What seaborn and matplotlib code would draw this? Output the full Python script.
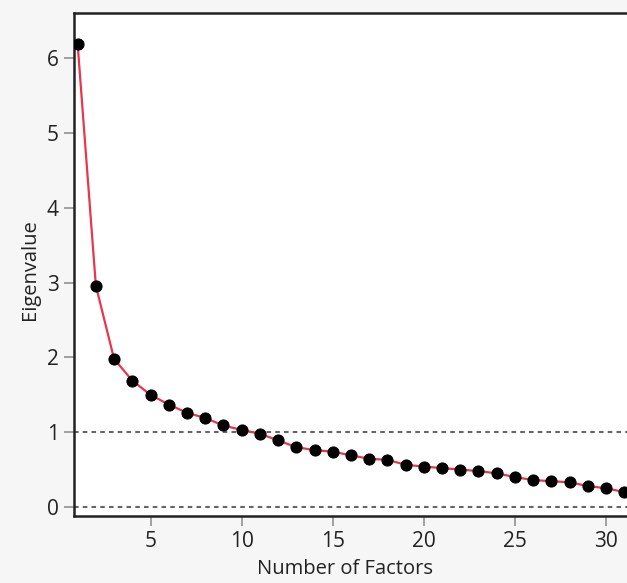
import matplotlib
matplotlib.use("Agg")
import matplotlib.pyplot as plt
import seaborn as sns
import pandas as pd

# scree plot values
factors = list(range(1, 32))
eigenvalues = [
    6.19, 2.96, 1.98, 1.69, 1.50, 1.37, 1.26, 1.19, 1.09, 1.03,
    0.98, 0.89, 0.80, 0.76, 0.74, 0.69, 0.645, 0.63, 0.565, 0.54,
    0.52, 0.50, 0.48, 0.45, 0.40, 0.36, 0.345, 0.33, 0.28, 0.25,
    0.20,
]
ref_lines = [0, 1]
x_ticks = [5, 10, 15, 20, 25, 30]
y_ticks = [0, 1, 2, 3, 4, 5, 6]

df = pd.DataFrame({"factor": factors, "eigenvalue": eigenvalues})

sns.set_style("white")
plt.rcParams["font.family"] = ["Open Sans", "DejaVu Sans"]

fig = plt.figure(figsize=(6.27, 5.83), dpi=100, facecolor="#f6f6f6")
ax = fig.add_axes([0.118, 0.115, 0.882, 0.862])
ax.set_facecolor("white")

for v in ref_lines:
    ax.axhline(v, color="#666666", linestyle=(0, (2.2, 2.0)), linewidth=1.5, zorder=1)

sns.lineplot(
    data=df, x="factor", y="eigenvalue", ax=ax,
    color="#e8364c", linewidth=1.6, marker="o", markersize=8,
    markerfacecolor="black", markeredgecolor="black", zorder=3,
)

ax.set_xlim(0.8, 31.15)
ax.set_ylim(-0.12, 6.6)
ax.set_xticks(x_ticks)
ax.set_yticks(y_ticks)
ax.tick_params(axis="both", direction="out", length=7, width=1.3,
               bottom=True, left=True,
               color="#999999", labelsize=15, labelcolor="#222222", pad=4)

for side in ["left", "bottom", "top"]:
    ax.spines[side].set_color("#222222")
    ax.spines[side].set_linewidth(1.8)
ax.spines["right"].set_visible(False)

ax.set_xlabel("Number of Factors", fontsize=14.5, color="#222222")
ax.set_ylabel("Eigenvalue", fontsize=14.5, color="#222222")
ax.xaxis.set_label_coords(0.49, -0.086)
ax.yaxis.set_label_coords(-0.062, 0.49)

fig.savefig("out.png", dpi=100, facecolor=fig.get_facecolor())
